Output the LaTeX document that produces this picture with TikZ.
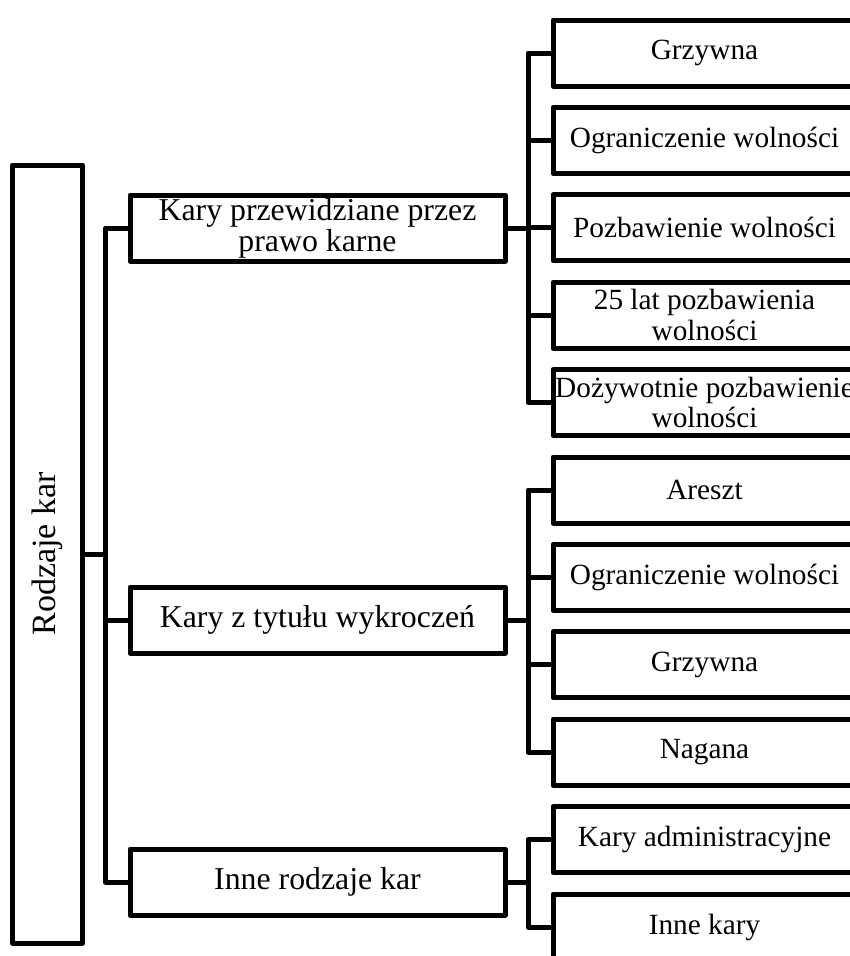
\documentclass[tikz,border=0pt]{standalone}
\usepackage{fontspec}
\setmainfont{Liberation Serif}
\begin{document}
\begin{tikzpicture}[x=1pt,y=-1pt,
  box/.style={draw, line width=5pt, line join=round, inner sep=0pt, outer sep=0pt, align=center},
  leaf/.style={box, minimum width=303pt, minimum height=66pt, font=\fontsize{29.3}{30.5}\selectfont},
  mid/.style={box, minimum width=375pt, minimum height=66pt, font=\fontsize{31.8}{31}\selectfont},
  link/.style={line width=5pt, line join=round},
]
\useasboundingbox (0,0) rectangle (850,956);
\clip (0,0) rectangle (850,956);

% root
\node[box, minimum width=70pt, minimum height=778pt] (root) at (47.5,554) {};
\node[rotate=90, inner sep=0pt, font=\fontsize{34}{36}\selectfont] (rootlabel) at (47.5,554) {Rodzaje kar};

% second level
\node[mid] (m1) at (317.5,228) {Kary przewidziane przez\\prawo karne};
\node[mid] (m2) at (317.5,620) {Kary z tytułu wykroczeń};
\node[mid] (m3) at (317.5,882) {Inne rodzaje kar};

% leaves
\node[leaf] (a1) at (704.5,53) {Grzywna};
\node[leaf] (a2) at (704.5,140.4) {Ograniczenie wolności};
\node[leaf] (a3) at (704.5,227.8) {Pozbawienie wolności};
\node[leaf] (a4) at (704.5,315.2) {25 lat pozbawienia\\wolności};
\node[leaf] (a5) at (704.5,402.6) {Dożywotnie pozbawienie\\wolności};

\node[leaf] (b1) at (704.5,490) {Areszt};
\node[leaf] (b2) at (704.5,577.4) {Ograniczenie wolności};
\node[leaf] (b3) at (704.5,664.8) {Grzywna};
\node[leaf] (b4) at (704.5,752.2) {Nagana};

\node[leaf] (c1) at (704.5,839.6) {Kary administracyjne};
\node[leaf] (c2) at (704.5,927) {Inne kary};

% forks
\coordinate (f0) at (105.5,554);
\coordinate (f1) at (528,228);
\coordinate (f2) at (528,620);
\coordinate (f3) at (528,882);

% connectors
\draw[link] (root.east) -- (f0);
\foreach \t in {m1,m2,m3} \draw[link] (f0) |- (\t.west);

\draw[link] (m1.east) -- (f1);
\foreach \t in {a1,a2,a3,a4,a5} \draw[link] (f1) |- (\t.west);

\draw[link] (m2.east) -- (f2);
\foreach \t in {b1,b2,b3,b4} \draw[link] (f2) |- (\t.west);

\draw[link] (m3.east) -- (f3);
\foreach \t in {c1,c2} \draw[link] (f3) |- (\t.west);
\end{tikzpicture}
\end{document}
